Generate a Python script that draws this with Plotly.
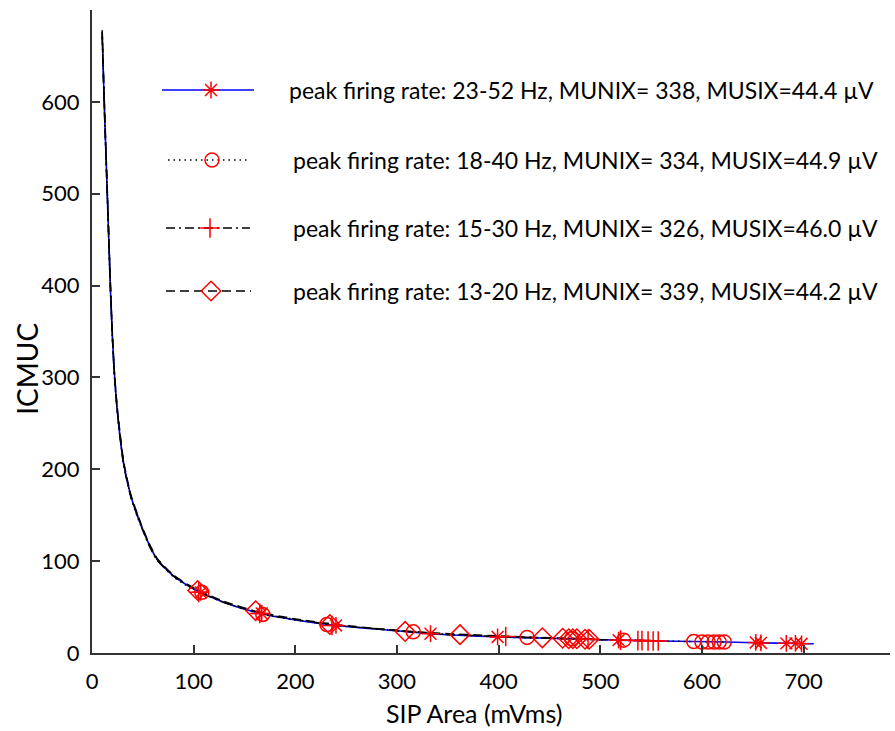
import plotly.graph_objects as go

# ---------------- data ----------------
x_ticks = [0, 100, 200, 300, 400, 500, 600, 700]
y_ticks = [0, 100, 200, 300, 400, 500, 600]

x_title = "SIP Area (mVms)"
y_title = "ICMUC"

legend_labels = [
    "peak firing rate: 23-52 Hz, MUNIX= 338, MUSIX=44.4 µV",
    "peak firing rate: 18-40 Hz, MUNIX= 334, MUSIX=44.9 µV",
    "peak firing rate: 15-30 Hz, MUNIX= 326, MUSIX=46.0 µV",
    "peak firing rate: 13-20 Hz, MUNIX= 339, MUSIX=44.2 µV",
]

# fitted curves
s1_fit_x = [10, 12, 15, 18, 20, 22, 25, 31, 38, 45, 55, 64, 80, 95, 107, 130, 166, 200, 240, 290, 333, 400, 450, 500, 560, 625, 660, 710]
s1_fit_y = [675, 600, 500, 400, 345, 305, 262, 207, 172, 148, 121, 102, 84, 73, 66, 55, 43, 36, 30, 25, 21, 17.5, 16, 14.5, 13, 12, 11, 10]

s2_fit_x = [10, 12, 15, 18, 20, 22, 25, 31, 38, 45, 55, 64, 80, 95, 107, 130, 166, 200, 240, 290, 333, 400, 450, 500, 560, 625]
s2_fit_y = [676, 602, 498, 398, 343, 304, 260, 208, 170, 147, 121, 102, 83, 72, 66, 55, 42.5, 36, 30.5, 25, 21.5, 17.5, 16, 14.5, 13, 12]

s3_fit_x = [10, 12, 15, 18, 20, 22, 25, 31, 38, 45, 55, 64, 80, 95, 107, 130, 166, 200, 240, 290, 333, 400, 450, 500, 562]
s3_fit_y = [672, 598, 502, 402, 347, 303, 263, 206, 171, 149, 120, 101, 84, 73, 65.5, 55, 43, 36.5, 30, 25.5, 21, 18, 16, 14.5, 13.2]

s4_fit_x = [10, 12, 15, 18, 20, 22, 25, 31, 38, 45, 55, 64, 80, 95, 107, 130, 166, 200, 240, 290, 333, 400, 450, 492]
s4_fit_y = [678, 604, 505, 405, 348, 306, 265, 209, 173, 150, 122, 103, 85, 74, 67, 56, 44, 37, 31, 25.5, 22, 18.5, 16.5, 15.3]

# measured points (markers)
s1_pts_x = [107, 167, 240, 333, 399, 518, 653, 658, 683, 692, 698]
s1_pts_y = [66, 43, 30, 21, 17.5, 14, 11.5, 11, 10.5, 10.5, 10]

s2_pts_x = [108, 168, 231, 316, 428, 472, 523, 592, 600, 606, 612, 617, 622]
s2_pts_y = [66, 42, 31, 23, 17, 15.5, 14, 12.5, 12, 12, 12, 12, 12]

s3_pts_x = [105, 165, 236, 407, 488, 520, 537, 541, 547, 552, 557]
s3_pts_y = [66, 43, 30, 18, 15, 14, 13.5, 13.5, 13, 13, 13]

s4_pts_x = [104, 161, 234, 308, 362, 443, 463, 469, 473, 477, 485, 489]
s4_pts_y = [68, 46, 31, 23.5, 20, 16.5, 16, 15.5, 15.5, 15.5, 15, 15]

# ---------------- styles ----------------
RED = "#ff0000"
line_styles = [
    dict(color="#0000ff", width=1.6, dash="solid"),
    dict(color="#000000", width=1.5, dash="1.5px,4px"),
    dict(color="#000000", width=1.6, dash="9px,4px,2px,4px"),
    dict(color="#000000", width=1.6, dash="9px,5px"),
]
marker_symbols = ["asterisk-open", "circle-open", "cross-thin-open", "diamond-open"]
marker_sizes = [14, 14, 14, 15]

fits = [(s1_fit_x, s1_fit_y), (s2_fit_x, s2_fit_y), (s3_fit_x, s3_fit_y), (s4_fit_x, s4_fit_y)]
pts = [(s1_pts_x, s1_pts_y), (s2_pts_x, s2_pts_y), (s3_pts_x, s3_pts_y), (s4_pts_x, s4_pts_y)]

fig = go.Figure()

for (fx, fy), ls in zip(fits, line_styles):
    fig.add_trace(go.Scatter(x=fx, y=fy, mode="lines", line=dict(ls, shape="spline", smoothing=0.6),
                             hoverinfo="skip"))

for (px, py), sym, sz in zip(pts, marker_symbols, marker_sizes):
    fig.add_trace(go.Scatter(
        x=px, y=py, mode="markers",
        marker=dict(symbol=sym, size=sz, color=RED, line=dict(color=RED, width=1.5)),
        hoverinfo="skip"))

# ---------------- custom legend (overlay axes in pixel units) ----------------
row_y = [90, 160, 228, 291]
seg_x = [(162, 254), (168, 248), (166, 250), (166, 251)]
mark_x = [211, 212, 210, 211]
text_x = [287, 291, 291, 291]

FONT = "Lato, Open Sans, sans-serif"

for i in range(4):
    fig.add_trace(go.Scatter(
        x=[seg_x[i][0], seg_x[i][1]], y=[row_y[i], row_y[i]], mode="lines",
        line=line_styles[i], xaxis="x2", yaxis="y2", hoverinfo="skip"))
    fig.add_trace(go.Scatter(
        x=[mark_x[i]], y=[row_y[i]], mode="markers",
        marker=dict(symbol=marker_symbols[i], size=marker_sizes[i], color=RED,
                    line=dict(color=RED, width=1.5)),
        xaxis="x2", yaxis="y2", hoverinfo="skip"))
    fig.add_annotation(
        x=text_x[i], y=row_y[i], xref="x2", yref="y2", text=legend_labels[i],
        showarrow=False, xanchor="left", yanchor="middle",
        font=dict(family=FONT, size=23, color="#000"))

# axis titles (placed as in the reference, not exactly centred on the axes)
fig.add_annotation(x=0.479, y=-0.094, xref="paper", yref="paper", text=x_title,
                   showarrow=False, xanchor="center", yanchor="middle",
                   font=dict(family=FONT, size=25, color="#000"))
fig.add_annotation(x=-0.0815, y=0.442, xref="paper", yref="paper", text=y_title,
                   showarrow=False, xanchor="center", yanchor="middle", textangle=-90,
                   font=dict(family=FONT, size=28, color="#000"))

AX = "#333333"

fig.update_layout(
    width=895, height=731, autosize=False,
    margin=dict(l=92, r=5, t=10, b=78),
    paper_bgcolor="white", plot_bgcolor="white",
    showlegend=False, hovermode=False,
    font=dict(family=FONT, size=20, color="#000"),
    xaxis=dict(
        range=[0, 785], tickvals=x_ticks, ticktext=[str(v) for v in x_ticks],
        showline=True, linecolor=AX, linewidth=2,
        ticks="inside", ticklen=8, tickwidth=1.5, tickcolor=AX,
        showgrid=False, zeroline=False, ticklabelstandoff=8,
        tickfont=dict(family=FONT, size=22, color="#000"),
    ),
    yaxis=dict(
        range=[0, 700], tickvals=y_ticks, ticktext=[str(v) for v in y_ticks],
        showline=True, linecolor=AX, linewidth=2,
        ticks="inside", ticklen=8, tickwidth=1.5, tickcolor=AX,
        showgrid=False, zeroline=False, ticklabelstandoff=6,
        tickfont=dict(family=FONT, size=22, color="#000"),
    ),
    xaxis2=dict(overlaying="x", range=[92, 890], visible=False, fixedrange=True),
    yaxis2=dict(overlaying="y", range=[653, 10], visible=False, fixedrange=True),
)

fig.write_html("out.html")
